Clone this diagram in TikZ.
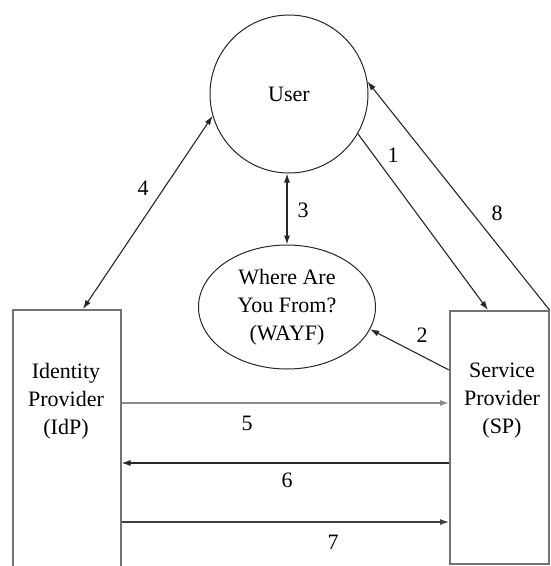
\documentclass[tikz,border=0pt]{standalone}
\usepackage{fontspec}
\setmainfont{Liberation Serif}
\usetikzlibrary{shapes.geometric,arrows.meta,calc}
\begin{document}
\begin{tikzpicture}[x=1pt,y=-1pt,
  every node/.style={font=\fontsize{22}{28}\selectfont},
  conn/.style={line width=1.1pt,draw=black!85},
  tip/.style={-{Latex[length=9pt,width=6pt]}},
  dtip/.style={{Latex[length=9pt,width=6pt]}-{Latex[length=9pt,width=6pt]}},
  boxst/.style={draw=black!55,line width=1.5pt,inner sep=0pt},
  lbl/.style={inner sep=1pt}]
\useasboundingbox (0,0) rectangle (550,566);
\begin{scope}
\clip (0,0) rectangle (550,566);
\node[circle,draw=black!85,line width=1pt,minimum size=158pt,inner sep=0pt] (user) at (289,94) {User};
\node[ellipse,draw=black!85,line width=1pt,minimum width=177pt,minimum height=124pt,inner sep=0pt,align=center] (wayf) at (287,307) {Where Are\\You From?\\(WAYF)};
\node[boxst,minimum width=108pt,minimum height=300pt,anchor=north west] (idp) at (12,309) {};
\node[boxst,minimum width=99pt,minimum height=253pt,anchor=north west] (sp) at (449,310) {};
\node[align=center] (idpt) at (66,401) {Identity\\Provider\\(IdP)};
\node[align=center] (spt) at (502,401) {Service\\Provider\\(SP)};
% 1
\draw[conn,tip] (user.-30) -- ($(sp.north west)+(39,0)$) coordinate (spone);
\node[lbl] (l1) at (393,155) {1};
% 8
\draw[conn,tip] (sp.north east) -- (user.9);
\node[lbl] (l8) at (497,213) {8};
% 3
\draw[conn,dtip] (wayf.north |- user.south) -- (wayf.north);
\node[lbl] (l3) at (303,210) {3};
% 4
\draw[conn,dtip] (user.196) -- ($(idp.north west)+(71,0)$) coordinate (idpfour);
\node[lbl] (l4) at (143,188) {4};
% 2
\draw[conn,tip] ($(sp.north west)+(0,60)$) coordinate (sptwo) -- (wayf.-15);
\node[lbl] (l2) at (422,335) {2};
% 5
\draw[line width=1.4pt,draw=black!45,tip] ($(idp.north east)+(0,94)$) coordinate (a5) -- (a5 -| sp.west);
\node[lbl] (l5) at (247,423) {5};
% 6
\draw[conn,tip] ($(sp.north west)+(0,153)$) coordinate (a6) -- (a6 -| idp.east);
\node[lbl] (l6) at (287,480) {6};
% 7
\draw[conn,draw=black!75,tip] ($(idp.north east)+(0,213)$) coordinate (a7) -- (a7 -| sp.west);
\node[lbl] (l7) at (333,542) {7};
\end{scope}
\end{tikzpicture}
\end{document}
